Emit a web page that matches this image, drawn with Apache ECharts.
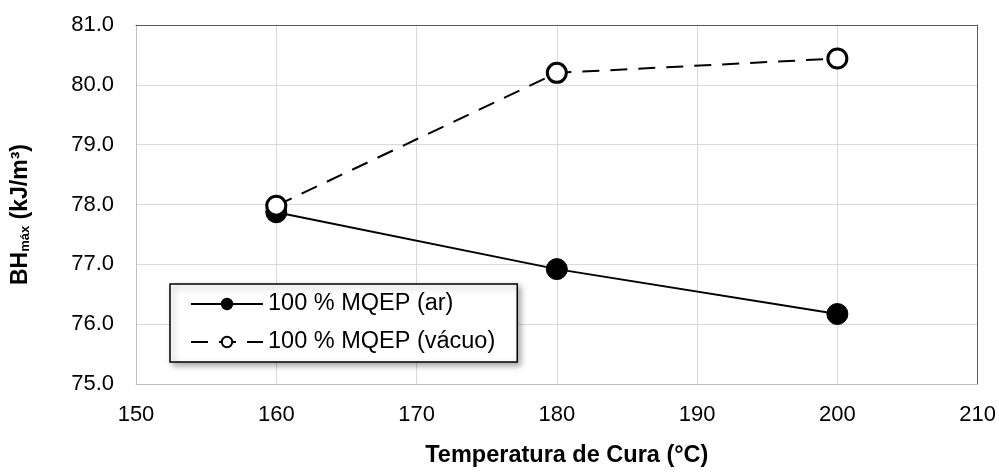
<!DOCTYPE html>
<html>
<head>
<meta charset="utf-8">
<script src="https://cdn.jsdelivr.net/npm/echarts@6/dist/echarts.min.js"></script>
<style>
  html, body { margin: 0; padding: 0; background: #fff; }
  #chart { width: 999px; height: 473px; }
</style>
</head>
<body>
<div id="chart"></div>
<script>
// temperaturas de cura (°C)
const temps = [160, 180, 200];
// BHmax (kJ/m³)
const bhAr = [77.87, 76.92, 76.17];
const bhVacuo = [77.98, 80.20, 80.44];
const seriesNames = ['100 % MQEP (ar)', '100 % MQEP (vácuo)'];

const chart = echarts.init(document.getElementById('chart'));
const font = 'Liberation Sans, Arial, sans-serif';

const option = {
  animation: false,
  grid: { left: 136, right: 20, top: 25, bottom: 89 },
  legend: {
    left: 170, top: 284,
    orient: 'vertical',
    data: seriesNames,
    itemWidth: 72, itemHeight: 13, itemGap: 14,
    padding: [8, 22, 8, 20],
    backgroundColor: '#fff',
    borderColor: '#000', borderWidth: 1.5,
    shadowColor: 'rgba(0,0,0,0.35)', shadowBlur: 6, shadowOffsetX: 3, shadowOffsetY: 3,
    textStyle: { fontFamily: font, fontSize: 23.5, color: '#000' }
  },
  xAxis: [{
    type: 'value', min: 150, max: 210, interval: 10,
    axisLine: { show: true, lineStyle: { color: '#bfbfbf', width: 1 } },
    axisTick: { show: false },
    axisLabel: { fontFamily: font, fontSize: 22, color: '#000', margin: 20 },
    splitLine: { lineStyle: { color: '#d9d9d9', width: 1 } },
    name: 'Temperatura de Cura (°C)',
    nameLocation: 'middle', nameGap: 60,
    nameTextStyle: { fontFamily: font, fontWeight: 'bold', fontSize: 23.5, color: '#000', padding: [0, 0, 0, 20] }
  }, {
    type: 'value', position: 'top', min: 150, max: 210, interval: 10,
    axisLine: { show: true, onZero: false, lineStyle: { color: '#595959', width: 1 } },
    axisTick: { show: false }, axisLabel: { show: false }, splitLine: { show: false }
  }],
  yAxis: [{
    type: 'value', min: 75, max: 81, interval: 1,
    axisLine: { show: true, lineStyle: { color: '#bfbfbf', width: 1 } },
    axisTick: { show: false },
    axisLabel: { fontFamily: font, fontSize: 22, color: '#000', margin: 22,
      formatter: v => v.toFixed(1) },
    splitLine: { lineStyle: { color: '#d9d9d9', width: 1 } },
    name: '{b|BH}{s|máx}{b| (kJ/m³)}',
    nameLocation: 'middle', nameGap: 104, nameRotate: 90,
    nameTextStyle: {
      padding: [0, 20, 0, 0],
      rich: {
        b: { fontFamily: font, fontWeight: 'bold', fontSize: 23, color: '#000' },
        s: { fontFamily: font, fontWeight: 'bold', fontSize: 13, color: '#000', verticalAlign: 'bottom', padding: [10, 0, 0, 0] }
      }
    }
  }, {
    type: 'value', position: 'right', min: 75, max: 81, interval: 1,
    axisLine: { show: true, onZero: false, lineStyle: { color: '#595959', width: 1 } },
    axisTick: { show: false }, axisLabel: { show: false }, splitLine: { show: false }
  }],
  series: [{
    name: seriesNames[0],
    type: 'line',
    data: temps.map((t, i) => [t, bhAr[i]]),
    symbol: 'circle', symbolSize: 21,
    lineStyle: { color: '#000', width: 2 },
    itemStyle: { color: '#000', borderColor: '#000', borderWidth: 1 },
    z: 3
  }, {
    name: seriesNames[1],
    type: 'line',
    data: temps.map((t, i) => [t, bhVacuo[i]]),
    symbol: 'circle', symbolSize: 19,
    lineStyle: { color: '#000', width: 2, type: [17, 11] },
    itemStyle: { color: '#fff', borderColor: '#000', borderWidth: 3 },
    z: 3
  }]
};

chart.setOption(option);
</script>
</body>
</html>
